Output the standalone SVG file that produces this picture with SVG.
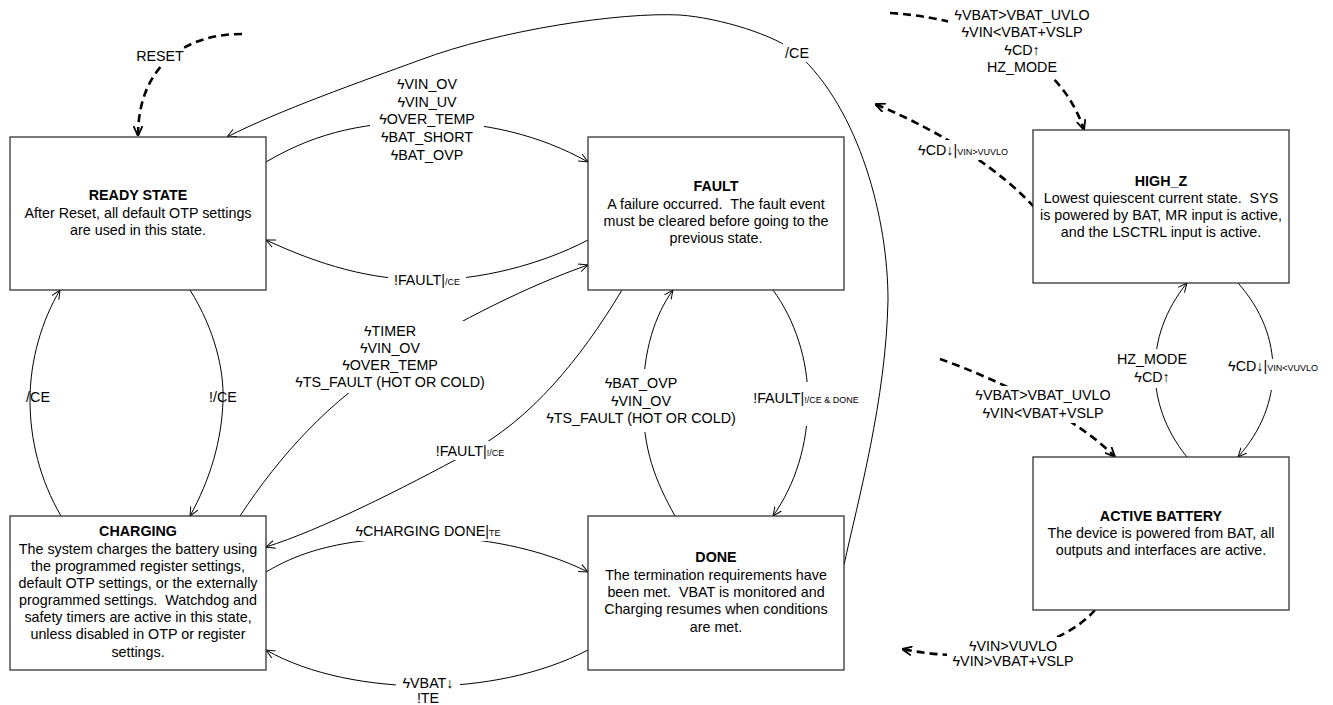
<svg xmlns="http://www.w3.org/2000/svg" width="1333" height="705" viewBox="0 0 1333 705">
<style>
text{font-family:"Liberation Sans",Arial,"DejaVu Sans",sans-serif;font-size:14.3px;fill:#000;text-anchor:middle;white-space:pre}
.t{font-weight:bold}
.sub{font-size:9px}
.box{fill:#fff;stroke:#333;stroke-width:1.3}
.c{fill:none;stroke:#000;stroke-width:1}
.d{fill:none;stroke:#000;stroke-width:2.6;stroke-dasharray:8 5}
.m{fill:#fff;stroke:none}
</style>
<defs>
<marker id="a" viewBox="0 0 10 10" refX="10" refY="5" markerWidth="9" markerHeight="9" orient="auto" markerUnits="userSpaceOnUse"><path d="M0,0.5 L10,5 L0,9.5" fill="none" stroke="#000" stroke-width="1.1"/></marker>
<marker id="ad" viewBox="0 0 10 10" refX="10" refY="5" markerWidth="10" markerHeight="10" orient="auto" markerUnits="userSpaceOnUse"><path d="M0,0.5 L10,5 L0,9.5" fill="none" stroke="#000" stroke-width="1.8"/></marker>
</defs>
<rect width="1333" height="705" fill="#fff"/>
<g id="connectors">
<path class="d" d="M242,34 C180,34 138,70 138,136" marker-end="url(#ad)"/>
<path class="c" d="M844,565 C858,500 886,400 888,300 C888,220 860,110 797,53 C775,35 720,18 680,15 C620,12 500,30 420,60 C360,82 280,110 227,137" marker-end="url(#a)"/>
<path class="c" d="M266,162 C320,130 370,122 427,122 C485,122 540,135 588,162" marker-end="url(#a)"/>
<path class="c" d="M588,240 C540,265 480,280 427,280 C370,280 320,265 266,240" marker-end="url(#a)"/>
<path class="c" d="M240,516 C280,455 330,400 395,360 C460,320 530,285 588,265" marker-end="url(#a)"/>
<path class="c" d="M622,290 C580,360 530,420 470,452 C400,490 320,530 266,547" marker-end="url(#a)"/>
<path class="c" d="M266,572 C300,552 340,538 427,537 C480,537 540,548 588,572" marker-end="url(#a)"/>
<path class="c" d="M588,650 C540,675 480,686 427,686 C370,686 310,675 266,650" marker-end="url(#a)"/>
<path class="c" d="M190,290 C215,330 224,370 223,400 C222,440 210,480 190,516" marker-end="url(#a)"/>
<path class="c" d="M61,516 C40,480 30,440 30,400 C30,360 42,320 60,290" marker-end="url(#a)"/>
<path class="c" d="M675,516 C655,480 643,450 643,400 C643,350 655,315 673,290" marker-end="url(#a)"/>
<path class="c" d="M773,290 C795,320 808,360 808,400 C808,445 795,485 773,516" marker-end="url(#a)"/>
<path class="d" d="M890,13 C1000,20 1065,70 1084,130" marker-end="url(#ad)"/>
<path class="d" d="M1034,207 C1005,175 950,135 875,104" marker-end="url(#ad)"/>
<path class="c" d="M1238,283 C1262,310 1273,340 1273,370 C1273,400 1262,430 1238,457" marker-end="url(#a)"/>
<path class="c" d="M1187,457 C1165,430 1155,400 1155,370 C1155,340 1165,310 1187,283" marker-end="url(#a)"/>
<path class="d" d="M940,359 C1000,380 1080,420 1115,457" marker-end="url(#ad)"/>
<path class="d" d="M1095,610 C1060,650 980,665 902,649" marker-end="url(#ad)"/>
</g>
<g id="labels">
<rect class="m" x="136" y="47" width="48" height="18"/>
<text x="160" y="61">RESET</text>
<rect class="m" x="783" y="43" width="29" height="19"/>
<text x="797" y="58">/CE</text>
<rect class="m" x="370" y="112" width="114" height="17"/>
<text x="427" y="89">ϟVIN_OV</text>
<text x="427" y="107">ϟVIN_UV</text>
<text x="427" y="124">ϟOVER_TEMP</text>
<text x="427" y="142">ϟBAT_SHORT</text>
<text x="427" y="160">ϟBAT_OVP</text>
<rect class="m" x="388" y="271" width="78" height="19"/>
<text x="427" y="285">!FAULT|<tspan class="sub">/CE</tspan></text>
<rect class="m" x="288" y="321" width="204" height="72"/>
<text x="390" y="336">ϟTIMER</text>
<text x="390" y="353">ϟVIN_OV</text>
<text x="390" y="370">ϟOVER_TEMP</text>
<text x="390" y="387">ϟTS_FAULT (HOT OR COLD)</text>
<rect class="m" x="432" y="441" width="78" height="19"/>
<text x="470" y="456">!FAULT|<tspan class="sub">!/CE</tspan></text>
<rect class="m" x="348" y="522" width="160" height="19"/>
<text x="428" y="536">ϟCHARGING DONE|<tspan class="sub">TE</tspan></text>
<rect class="m" x="396" y="674" width="64" height="18"/>
<text x="428" y="688">ϟVBAT↓</text>
<text x="428" y="703">!TE</text>
<text x="223" y="402">!/CE</text>
<text x="38" y="402">/CE</text>
<rect class="m" x="610" y="369" width="70" height="63"/>
<text x="641" y="388">ϟBAT_OVP</text>
<text x="641" y="406">ϟVIN_OV</text>
<text x="641" y="423">ϟTS_FAULT (HOT OR COLD)</text>
<rect class="m" x="801" y="382" width="14" height="44"/>
<text x="806" y="403">!FAULT|<tspan class="sub">!/CE &amp; DONE</tspan></text>
<rect class="m" x="948" y="6" width="149" height="71"/>
<text x="1022" y="20">ϟVBAT&gt;VBAT_UVLO</text>
<text x="1022" y="37">ϟVIN&lt;VBAT+VSLP</text>
<text x="1022" y="55">ϟCD↑</text>
<text x="1022" y="72">HZ_MODE</text>
<rect class="m" x="913" y="140" width="100" height="20"/>
<text x="963" y="155">ϟCD↓|<tspan class="sub">VIN&gt;VUVLO</tspan></text>
<rect class="m" x="1265" y="359" width="14" height="31"/>
<text x="1273" y="371">ϟCD↓|<tspan class="sub">VIN&lt;VUVLO</tspan></text>
<rect class="m" x="1113" y="349" width="80" height="39"/>
<text x="1152" y="364">HZ_MODE</text>
<text x="1152" y="382">ϟCD↑</text>
<rect class="m" x="972" y="386" width="142" height="37"/>
<text x="1043" y="400">ϟVBAT&gt;VBAT_UVLO</text>
<text x="1043" y="418">ϟVIN&lt;VBAT+VSLP</text>
<rect class="m" x="947" y="637" width="133" height="34"/>
<text x="1013" y="651">ϟVIN&gt;VUVLO</text>
<text x="1013" y="666">ϟVIN&gt;VBAT+VSLP</text>
</g>
<g id="ready">
<rect class="box" x="10" y="137" width="256" height="153"/>
<text class="t" x="138" y="200">READY STATE</text>
<text x="138" y="218">After Reset, all default OTP settings</text>
<text x="138" y="235">are used in this state.</text>
</g>
<g id="fault">
<rect class="box" x="588" y="137" width="256" height="153"/>
<text class="t" x="716" y="191">FAULT</text>
<text x="716" y="209">A failure occurred.  The fault event</text>
<text x="716" y="226">must be cleared before going to the</text>
<text x="716" y="243">previous state.</text>
</g>
<g id="highz">
<rect class="box" x="1033" y="130" width="256" height="153"/>
<text class="t" x="1161" y="186">HIGH_Z</text>
<text x="1161" y="203">Lowest quiescent current state.  SYS</text>
<text x="1161" y="220">is powered by BAT, MR input is active,</text>
<text x="1161" y="237">and the LSCTRL input is active.</text>
</g>
<g id="active">
<rect class="box" x="1033" y="457" width="256" height="153"/>
<text class="t" x="1161" y="521">ACTIVE BATTERY</text>
<text x="1161" y="538">The device is powered from BAT, all</text>
<text x="1161" y="555">outputs and interfaces are active.</text>
</g>
<g id="charging">
<rect class="box" x="10" y="516" width="256" height="154"/>
<text class="t" x="138" y="536">CHARGING</text>
<text x="138" y="554">The system charges the battery using</text>
<text x="138" y="571">the programmed register settings,</text>
<text x="138" y="588">default OTP settings, or the externally</text>
<text x="138" y="605">programmed settings.  Watchdog and</text>
<text x="138" y="622">safety timers are active in this state,</text>
<text x="138" y="639">unless disabled in OTP or register</text>
<text x="138" y="657">settings.</text>
</g>
<g id="done">
<rect class="box" x="588" y="516" width="256" height="154"/>
<text class="t" x="716" y="562">DONE</text>
<text x="716" y="580">The termination requirements have</text>
<text x="716" y="597">been met.  VBAT is monitored and</text>
<text x="716" y="614">Charging resumes when conditions</text>
<text x="716" y="632">are met.</text>
</g>
</svg>
